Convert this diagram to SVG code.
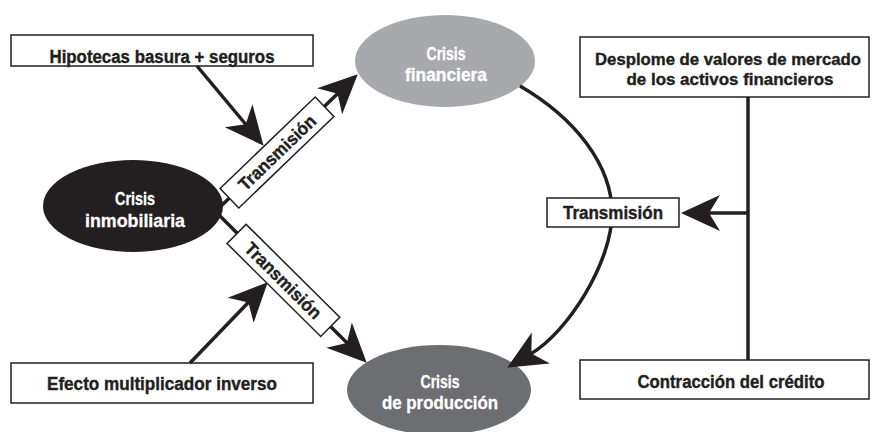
<svg xmlns="http://www.w3.org/2000/svg" width="872" height="432" viewBox="0 0 872 432">
<style>
.bg{fill:#ffffff}
.box{fill:#ffffff;stroke:#231f20;stroke-width:1.5}
.t{font-family:"Liberation Sans",Arial,sans-serif;font-weight:bold;font-size:18px;fill:#231f20;stroke:#231f20;stroke-width:0.4;text-anchor:middle}
.tw{font-family:"Liberation Sans",Arial,sans-serif;font-weight:bold;font-size:19px;fill:#ffffff;stroke:#ffffff;stroke-width:0.3;text-anchor:middle}
.sm{font-size:17px}
.ln{fill:none;stroke:#231f20;stroke-width:3.5}
.arr{marker-end:url(#ah)}
</style>
<defs>
<marker id="ah" markerUnits="userSpaceOnUse" markerWidth="46" markerHeight="42" refX="0" refY="0" orient="auto" overflow="visible">
<path d="M27,0 L-12,-18 L-1,0 L-12,18 Z" fill="#231f20"/>
</marker>
</defs>
<rect class="bg" x="0" y="0" width="872" height="432"/>

<g id="crisis-financiera">
<ellipse cx="445" cy="61" rx="90" ry="46" fill="#a7a9ac"/>
<text class="tw" x="446" y="60" textLength="39" lengthAdjust="spacingAndGlyphs">Crisis</text>
<text class="tw" x="446" y="81" textLength="82" lengthAdjust="spacingAndGlyphs">financiera</text>
</g>
<g id="crisis-inmobiliaria">
<ellipse cx="133" cy="206" rx="90" ry="46" fill="#231f20"/>
<text class="tw" x="135" y="205" textLength="40" lengthAdjust="spacingAndGlyphs">Crisis</text>
<text class="tw" x="135" y="227" textLength="100" lengthAdjust="spacingAndGlyphs">inmobiliaria</text>
</g>
<g id="crisis-produccion">
<ellipse cx="439" cy="390" rx="92" ry="45" fill="#6d6e71"/>
<text class="tw" x="440" y="388" textLength="39" lengthAdjust="spacingAndGlyphs">Crisis</text>
<text class="tw" x="440" y="409" textLength="116" lengthAdjust="spacingAndGlyphs">de producción</text>
</g>
<g id="hipotecas">
<rect class="box" x="11" y="35" width="302" height="31"/>
<text class="t" x="162" y="63" textLength="225" lengthAdjust="spacingAndGlyphs">Hipotecas basura + seguros</text>
</g>
<g id="efecto">
<rect class="box" x="11" y="363" width="302" height="40"/>
<text class="t" x="162" y="390" textLength="230" lengthAdjust="spacingAndGlyphs">Efecto multiplicador inverso</text>
</g>
<g id="desplome">
<rect class="box" x="580" y="37" width="289" height="60"/>
<text class="t sm" x="728" y="65" textLength="266" lengthAdjust="spacingAndGlyphs">Desplome de valores de mercado</text>
<text class="t sm" x="730" y="85" textLength="207" lengthAdjust="spacingAndGlyphs">de los activos financieros</text>
</g>
<g id="contraccion">
<rect class="box" x="580" y="360" width="289" height="39"/>
<text class="t" x="731" y="388" textLength="187" lengthAdjust="spacingAndGlyphs">Contracción del crédito</text>
</g>

<g id="connectors">
<path class="ln arr" d="M219,208 L338.3,93"/>
<path class="ln arr" d="M219,215 L347.6,343.6"/>
<path class="ln arr" d="M197,66 L246.3,125"/>
<path class="ln arr" d="M190,363 L249,301.7"/>
<path class="ln" d="M748,97 L748,360"/>
<path class="ln arr" d="M748,213 L708,213"/>
<path class="ln arr" d="M520,86 C575,118 612,165 612,213 C612,262 568,332 530.5,354"/>
</g>

<g id="transmision-1" transform="translate(277,152.5) rotate(-43.9)">
<rect class="box" x="-66" y="-13.5" width="132" height="27"/>
<text class="t" x="0" y="6.5" textLength="100" lengthAdjust="spacingAndGlyphs">Transmisión</text>
</g>
<g id="transmision-2" transform="translate(283.4,280.4) rotate(44.8)">
<rect class="box" x="-66" y="-13.5" width="132" height="27"/>
<text class="t" x="0" y="6.5" textLength="100" lengthAdjust="spacingAndGlyphs">Transmisión</text>
</g>
<g id="transmision-3">
<rect class="box" x="547" y="198" width="132" height="29"/>
<text class="t" x="613" y="219" textLength="100" lengthAdjust="spacingAndGlyphs">Transmisión</text>
</g>
</svg>
